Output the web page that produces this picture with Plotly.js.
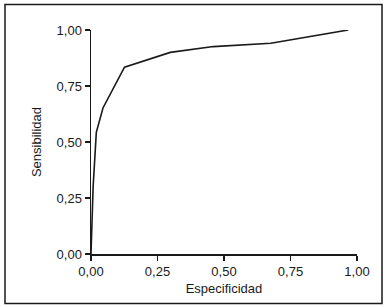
<!DOCTYPE html>
<html>
<head>
<meta charset="utf-8">
<script src="https://cdn.plot.ly/plotly-3.0.1.min.js"></script>
<style>html,body{margin:0;padding:0;background:#fff;}#chart{width:387px;height:307px;}</style>
</head>
<body>
<div id="chart"></div>
<script>
const especificidad = [0, 0.008, 0.02, 0.045, 0.126, 0.298, 0.46, 0.676, 0.967];
const sensibilidad  = [0, 0.30, 0.543, 0.652, 0.834, 0.90, 0.926, 0.941, 1.0];
const tickVals = [0, 0.25, 0.5, 0.75, 1];
const tickText = ['0,00', '0,25', '0,50', '0,75', '1,00'];
const xTitle = 'Especificidad';
const yTitle = 'Sensibilidad';

const font = {family: 'Liberation Sans, Arial, sans-serif', size: 13, color: '#1a1a1a'};

const trace = {
  x: especificidad, y: sensibilidad, type: 'scatter', mode: 'lines',
  line: {color: '#1a1a1a', width: 1.6}, hoverinfo: 'none', cliponaxis: false
};

const layout = {
  width: 387, height: 307,
  margin: {l: 91, r: 30, t: 30, b: 53, pad: 0},
  paper_bgcolor: '#fff', plot_bgcolor: '#fff',
  showlegend: false, font: font,
  xaxis: {
    range: [0, 1], tickvals: tickVals, ticktext: tickText,
    showgrid: false, zeroline: false, showline: true, linecolor: '#1a1a1a', linewidth: 1.5,
    ticks: 'outside', ticklen: 5, tickwidth: 1.3, tickcolor: '#1a1a1a',
    tickfont: font, fixedrange: true,
    title: {text: xTitle, font: font, standoff: 6}
  },
  yaxis: {
    range: [0, 1], tickvals: tickVals, ticktext: tickText,
    showgrid: false, zeroline: false, showline: true, linecolor: '#1a1a1a', linewidth: 1.5,
    ticks: 'outside', ticklen: 5, tickwidth: 1.3, tickcolor: '#1a1a1a',
    tickfont: font, fixedrange: true,
    title: {text: yTitle, font: font, standoff: 12}
  },
  shapes: [{
    type: 'rect', xref: 'paper', yref: 'paper',
    x0: (5 - 91) / 266, x1: (382 - 91) / 266,
    y0: (254 - 303.5) / 224, y1: (254 - 4.5) / 224,
    line: {color: '#1a1a1a', width: 1.5}, fillcolor: 'rgba(0,0,0,0)', layer: 'below'
  }]
};

Plotly.newPlot('chart', [trace], layout, {staticPlot: true, displayModeBar: false});
</script>
</body>
</html>
